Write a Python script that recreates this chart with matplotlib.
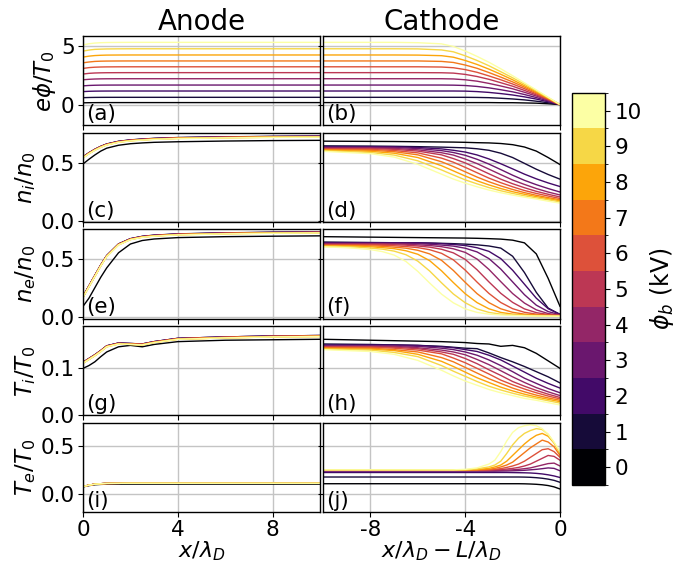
import numpy as np
import matplotlib
matplotlib.use("Agg")
import matplotlib.pyplot as plt
from matplotlib.colors import ListedColormap, BoundaryNorm
import matplotlib.cm as cm

plt.rcParams['font.family'] = 'DejaVu Sans'
plt.rcParams['mathtext.fontset'] = 'dejavusans'
plt.rcParams['axes.unicode_minus'] = False
plt.rcParams['axes.linewidth'] = 1.0

# ---------------- data (rows = phi_b 0..10 kV) ----------------
phi_b = [0, 1, 2, 3, 4, 5, 6, 7, 8, 9, 10]

x_anode = [0, 0.25, 0.5, 0.75, 1, 1.5, 2, 2.5, 3, 4, 6, 8, 10]
x_cath = [-10, -8, -7, -6, -5, -4.5, -4, -3.5, -3, -2.5, -2, -1.5, -1, -0.5, 0]
x_cath_fine = [-10, -9.5, -9, -8.5, -8, -7.5, -7, -6.5, -6, -5.5, -5, -4.5, -4,
               -3.5, -3, -2.5, -2, -1.5, -1, -0.5, 0]
x_cath_te = [-10, -8, -6, -5, -4.5, -4, -3.5, -3, -2.75, -2.5, -2.25, -2, -1.75,
             -1.5, -1.25, -1, -0.75, -0.5, -0.25, 0]

# (a) potential, anode side
phi_anode = [
    [0.15, 0.16, 0.165, 0.168, 0.169, 0.17, 0.17, 0.17, 0.17, 0.17, 0.17, 0.17, 0.17],
    [0.59, 0.605, 0.613, 0.617, 0.619, 0.62, 0.62, 0.62, 0.62, 0.62, 0.62, 0.62, 0.62],
    [1.11, 1.135, 1.148, 1.154, 1.157, 1.159, 1.16, 1.16, 1.16, 1.16, 1.16, 1.16, 1.16],
    [1.60, 1.635, 1.652, 1.662, 1.666, 1.669, 1.67, 1.67, 1.67, 1.67, 1.67, 1.67, 1.67],
    [2.12, 2.16, 2.185, 2.199, 2.205, 2.208, 2.21, 2.21, 2.21, 2.21, 2.21, 2.21, 2.21],
    [2.61, 2.67, 2.70, 2.715, 2.723, 2.728, 2.73, 2.73, 2.73, 2.73, 2.73, 2.73, 2.73],
    [3.09, 3.16, 3.195, 3.213, 3.222, 3.228, 3.23, 3.23, 3.23, 3.23, 3.23, 3.23, 3.23],
    [3.57, 3.64, 3.69, 3.71, 3.72, 3.727, 3.73, 3.73, 3.73, 3.73, 3.73, 3.73, 3.73],
    [4.06, 4.14, 4.19, 4.215, 4.23, 4.237, 4.24, 4.24, 4.24, 4.24, 4.24, 4.24, 4.24],
    [4.57, 4.66, 4.72, 4.74, 4.755, 4.765, 4.77, 4.77, 4.77, 4.77, 4.77, 4.77, 4.77],
    [5.10, 5.20, 5.26, 5.29, 5.305, 5.315, 5.32, 5.32, 5.32, 5.32, 5.32, 5.32, 5.32],
]
# (b) potential, cathode side
phi_cath = [
    [0.17, 0.17, 0.17, 0.17, 0.17, 0.17, 0.17, 0.17, 0.17, 0.16, 0.16, 0.14, 0.12, 0.07, 0],
    [0.62, 0.62, 0.62, 0.62, 0.62, 0.62, 0.62, 0.61, 0.59, 0.54, 0.48, 0.40, 0.29, 0.155, 0],
    [1.16, 1.16, 1.16, 1.16, 1.16, 1.16, 1.15, 1.11, 1.04, 0.94, 0.82, 0.66, 0.47, 0.24, 0],
    [1.67, 1.67, 1.67, 1.67, 1.67, 1.66, 1.63, 1.55, 1.43, 1.27, 1.09, 0.86, 0.60, 0.31, 0],
    [2.21, 2.21, 2.21, 2.21, 2.21, 2.19, 2.12, 2.00, 1.81, 1.59, 1.35, 1.05, 0.73, 0.38, 0],
    [2.73, 2.73, 2.73, 2.73, 2.72, 2.69, 2.58, 2.40, 2.16, 1.87, 1.57, 1.21, 0.83, 0.42, 0],
    [3.23, 3.23, 3.23, 3.23, 3.21, 3.15, 2.99, 2.76, 2.45, 2.12, 1.76, 1.36, 0.92, 0.47, 0],
    [3.73, 3.73, 3.73, 3.73, 3.69, 3.60, 3.38, 3.10, 2.74, 2.35, 1.94, 1.49, 1.01, 0.51, 0],
    [4.24, 4.24, 4.24, 4.23, 4.18, 4.05, 3.77, 3.43, 3.03, 2.59, 2.12, 1.61, 1.09, 0.55, 0],
    [4.77, 4.77, 4.77, 4.76, 4.67, 4.51, 4.17, 3.77, 3.32, 2.81, 2.29, 1.74, 1.17, 0.59, 0],
    [5.32, 5.32, 5.32, 5.29, 5.19, 4.97, 4.58, 4.12, 3.62, 3.06, 2.47, 1.86, 1.25, 0.63, 0],
]
# (c) ion density, anode side
ni_anode = [
    [.490, .530, .567, .600, .625, .650, .663, .670, .675, .680, .686, .690, .692],
    [.551, .586, .616, .641, .661, .684, .696, .703, .709, .716, .722, .726, .728],
    [.550, .585, .615, .640, .660, .683, .695, .702, .708, .715, .721, .725, .727],
    [.549, .584, .614, .639, .659, .682, .694, .701, .707, .714, .720, .724, .726],
    [.548, .583, .613, .638, .658, .681, .693, .700, .706, .713, .719, .723, .725],
    [.547, .582, .612, .637, .657, .680, .692, .699, .705, .712, .718, .722, .724],
    [.546, .581, .611, .636, .656, .679, .691, .698, .704, .711, .717, .721, .723],
    [.545, .580, .610, .635, .655, .678, .690, .697, .703, .710, .716, .720, .722],
    [.544, .579, .609, .634, .654, .677, .689, .696, .702, .709, .715, .719, .721],
    [.543, .578, .608, .633, .653, .676, .688, .695, .701, .708, .714, .718, .720],
    [.542, .577, .607, .632, .652, .675, .687, .694, .700, .707, .713, .717, .719],
]
# (d) ion density, cathode side
ni_cath = [
    [.685, .683, .682, .680, .678, .677, .675, .672, .670, .665, .655, .635, .600, .545, .485],
    [.645, .643, .641, .638, .634, .631, .628, .620, .607, .582, .545, .495, .445, .400, .360],
    [.637, .637, .637, .631, .619, .607, .592, .567, .533, .492, .448, .403, .363, .328, .297],
    [.632, .632, .631, .622, .604, .588, .564, .530, .489, .442, .394, .350, .313, .280, .250],
    [.627, .627, .623, .611, .586, .566, .532, .493, .446, .399, .353, .315, .280, .250, .225],
    [.622, .622, .615, .600, .568, .536, .499, .453, .406, .360, .321, .287, .256, .231, .208],
    [.618, .615, .605, .585, .540, .505, .461, .415, .369, .330, .295, .263, .238, .216, .195],
    [.613, .607, .595, .568, .509, .468, .423, .378, .338, .303, .272, .245, .222, .202, .184],
    [.608, .598, .582, .545, .475, .431, .387, .346, .311, .280, .253, .231, .211, .193, .175],
    [.603, .588, .566, .517, .439, .396, .354, .320, .288, .261, .238, .218, .200, .184, .165],
    [.598, .578, .549, .487, .403, .361, .326, .295, .267, .244, .224, .206, .190, .172, .155],
]
# (e) electron density, anode side
ne_anode = [
    [.090, .160, .250, .340, .420, .550, .625, .655, .668, .680, .688, .692, .695],
    [.176, .266, .356, .446, .526, .626, .671, .691, .701, .712, .721, .726, .729],
    [.175, .265, .355, .445, .525, .625, .670, .690, .700, .711, .720, .725, .728],
    [.174, .264, .354, .444, .524, .624, .669, .689, .699, .710, .719, .724, .727],
    [.173, .263, .353, .443, .523, .623, .668, .688, .698, .709, .718, .723, .726],
    [.172, .262, .352, .442, .522, .622, .667, .687, .697, .708, .717, .722, .725],
    [.171, .261, .351, .441, .521, .621, .666, .686, .696, .707, .716, .721, .724],
    [.170, .260, .350, .440, .520, .620, .665, .685, .695, .706, .715, .720, .723],
    [.169, .259, .349, .439, .519, .619, .664, .684, .694, .705, .714, .719, .722],
    [.168, .258, .348, .438, .518, .618, .663, .683, .693, .704, .713, .718, .721],
    [.167, .257, .347, .437, .517, .617, .662, .682, .692, .703, .712, .717, .720],
]
# (f) electron density, cathode side
ne_cath = [
    [.688, .687, .686, .685, .684, .683, .682, .681, .680, .679, .678, .677, .676, .674, .671, .667, .658, .635, .540, .330, .090],
    [.642, .641, .640, .639, .638, .637, .636, .635, .634, .633, .631, .628, .624, .618, .608, .590, .520, .380, .210, .075, .020],
    [.636, .636, .636, .636, .636, .636, .636, .636, .636, .633, .628, .621, .612, .593, .562, .500, .400, .280, .160, .070, .022],
    [.631, .631, .631, .631, .631, .631, .631, .631, .628, .623, .616, .607, .589, .557, .500, .410, .300, .190, .100, .045, .018],
    [.626, .626, .626, .626, .626, .626, .626, .623, .618, .612, .602, .584, .553, .496, .407, .302, .200, .118, .060, .028, .014],
    [.622, .622, .622, .622, .622, .622, .619, .615, .608, .598, .580, .549, .493, .404, .300, .202, .124, .068, .036, .020, .012],
    [.617, .617, .617, .617, .617, .614, .610, .603, .594, .576, .545, .489, .401, .298, .201, .123, .070, .039, .023, .017, .012],
    [.612, .612, .612, .612, .609, .605, .598, .589, .571, .540, .485, .398, .296, .199, .122, .069, .039, .023, .017, .012, .009],
    [.608, .608, .608, .605, .601, .594, .585, .567, .537, .482, .395, .294, .198, .122, .069, .038, .023, .016, .012, .009, .007],
    [.604, .604, .601, .597, .590, .581, .564, .533, .478, .393, .292, .196, .121, .068, .038, .023, .016, .012, .009, .007, .006],
    [.600, .597, .593, .586, .577, .560, .530, .475, .390, .290, .195, .120, .068, .038, .023, .016, .012, .009, .007, .006, .005],
]
# (g) ion temperature, anode side
ti_anode = [
    [.100, .106, .114, .125, .135, .146, .149, .146, .151, .157, .160, .161, .162],
    [.113, .121, .129, .138, .148, .154, .153, .152, .157, .164, .167, .169, .170],
    [.113, .121, .129, .138, .148, .154, .153, .152, .157, .164, .167, .169, .170],
    [.113, .121, .129, .138, .148, .154, .153, .152, .157, .164, .167, .169, .170],
    [.112, .120, .128, .137, .147, .153, .152, .151, .156, .163, .166, .168, .169],
    [.112, .120, .128, .137, .147, .153, .152, .151, .156, .163, .166, .168, .169],
    [.112, .120, .128, .137, .147, .153, .152, .151, .156, .163, .166, .168, .169],
    [.112, .120, .128, .137, .147, .153, .152, .151, .156, .163, .166, .168, .169],
    [.111, .119, .127, .136, .146, .152, .151, .150, .155, .162, .165, .167, .168],
    [.111, .119, .127, .136, .146, .152, .151, .150, .155, .162, .165, .167, .168],
    [.111, .119, .127, .136, .146, .152, .151, .150, .155, .162, .165, .167, .168],
]
# (h) ion temperature, cathode side
ti_cath = [
    [.162, .160, .159, .158, .157, .156, .155, .153, .152, .147, .149, .144, .132, .116, .100],
    [.152, .151, .150, .149, .147, .145, .143, .142, .133, .123, .114, .104, .093, .082, .069],
    [.150, .150, .150, .149, .146, .144, .140, .136, .128, .118, .105, .092, .079, .068, .058],
    [.148, .148, .148, .147, .143, .140, .135, .128, .118, .106, .093, .079, .068, .057, .048],
    [.147, .147, .147, .144, .139, .135, .129, .119, .108, .095, .082, .070, .059, .050, .042],
    [.146, .146, .145, .142, .135, .130, .121, .110, .097, .085, .072, .062, .053, .045, .038],
    [.145, .145, .143, .139, .131, .122, .112, .100, .088, .075, .065, .056, .048, .041, .035],
    [.144, .143, .140, .135, .123, .114, .102, .090, .078, .068, .058, .050, .043, .037, .032],
    [.142, .141, .138, .130, .115, .104, .092, .080, .070, .060, .052, .045, .039, .034, .029],
    [.141, .139, .134, .125, .106, .094, .083, .072, .062, .054, .047, .041, .036, .031, .026],
    [.140, .136, .130, .117, .096, .084, .073, .064, .055, .048, .042, .036, .032, .027, .022],
]
# (i) electron temperature, anode side
te_anode = [
    [.072, .085, .094, .098, .100, .101, .101, .101, .101, .101, .101, .101, .101],
    [.075, .090, .100, .105, .108, .109, .110, .110, .110, .110, .110, .110, .110],
    [.075, .090, .100, .105, .108, .109, .110, .110, .110, .110, .110, .110, .110],
    [.075, .090, .100, .105, .108, .109, .110, .110, .110, .110, .110, .110, .110],
    [.075, .090, .100, .105, .108, .109, .110, .110, .110, .110, .110, .110, .110],
    [.075, .090, .100, .105, .108, .109, .110, .110, .110, .110, .110, .110, .110],
    [.075, .090, .100, .105, .108, .109, .110, .110, .110, .110, .110, .110, .110],
    [.075, .090, .100, .105, .108, .109, .110, .110, .110, .110, .110, .110, .110],
    [.075, .090, .100, .105, .108, .109, .110, .110, .110, .110, .110, .110, .110],
    [.075, .090, .100, .105, .108, .109, .110, .110, .110, .110, .110, .110, .110],
    [.075, .090, .100, .105, .108, .109, .110, .110, .110, .110, .110, .110, .110],
]
# (j) electron temperature, cathode side
te_cath = [
    [.105, .105, .105, .105, .105, .105, .105, .105, .105, .105, .105, .105, .105, .104, .102, .099, .094, .086, .072, .050],
    [.175, .175, .175, .175, .175, .175, .175, .175, .175, .175, .175, .175, .175, .174, .172, .168, .162, .153, .140, .120],
    [.222, .222, .222, .222, .222, .222, .222, .222, .222, .222, .222, .221, .220, .219, .217, .213, .207, .198, .186, .170],
    [.236, .236, .236, .236, .236, .236, .236, .236, .236, .237, .238, .240, .242, .245, .250, .255, .262, .270, .265, .240],
    [.243, .243, .243, .243, .243, .243, .243, .243, .244, .245, .247, .250, .255, .262, .270, .285, .300, .315, .320, .290],
    [.245, .245, .245, .245, .245, .245, .245, .247, .250, .253, .258, .265, .275, .290, .310, .340, .370, .400, .390, .350],
    [.246, .246, .246, .246, .246, .246, .247, .250, .255, .262, .275, .290, .310, .340, .380, .420, .460, .470, .440, .380],
    [.248, .248, .248, .248, .248, .248, .250, .255, .265, .280, .300, .330, .380, .430, .480, .520, .560, .540, .490, .400],
    [.250, .250, .250, .250, .250, .250, .253, .265, .280, .300, .340, .400, .460, .520, .570, .610, .630, .600, .530, .420],
    [.250, .250, .250, .250, .250, .250, .260, .280, .300, .340, .420, .510, .580, .630, .660, .680, .670, .620, .530, .430],
    [.250, .250, .250, .250, .250, .255, .270, .310, .350, .440, .550, .640, .690, .710, .720, .710, .680, .620, .540, .440],
]

# ---------------- figure ----------------
colors = plt.get_cmap('inferno')(np.linspace(0, 1, len(phi_b)))

fig = plt.figure(figsize=(6.76, 5.63), dpi=100)
gs = fig.add_gridspec(5, 2, left=0.1228, right=0.8284, top=0.936, bottom=0.0906,
                      hspace=0.085, wspace=0.013)

rows = [
    (x_anode, phi_anode, x_cath, phi_cath, r'$e\phi/T_0$', (-1.76, 5.86), [0, 5], ['0', '5']),
    (x_anode, ni_anode, x_cath, ni_cath, r'$n_i/n_0$', (-0.005, 0.757), [0, 0.5], ['0.0', '0.5']),
    (x_anode, ne_anode, x_cath_fine, ne_cath, r'$n_e/n_0$', (-0.015, 0.75), [0, 0.5], ['0.0', '0.5']),
    (x_anode, ti_anode, x_cath, ti_cath, r'$T_i/T_0$', (0, 0.19), [0, 0.1], ['0.0', '0.1']),
    (x_anode, te_anode, x_cath_te, te_cath, r'$T_e/T_0$', (-0.19, 0.74), [0, 0.5], ['0.0', '0.5']),
]
letters = 'abcdefghij'

for r, (xa, ya, xc, yc, ylab, ylim, yt, ytl) in enumerate(rows):
    axa = fig.add_subplot(gs[r, 0])
    axc = fig.add_subplot(gs[r, 1])
    for k in range(len(phi_b)):
        axa.plot(xa, ya[k], color=colors[k], lw=1.0)
        axc.plot(xc, yc[k], color=colors[k], lw=1.0)
    for j, ax in enumerate([axa, axc]):
        ax.set_ylim(*ylim)
        ax.set_yticks(yt)
        ax.grid(True, color='#c4c4c4', lw=1.0)
        ax.set_axisbelow(True)
        ax.tick_params(direction='out', length=3.5, width=0.8, labelsize=15.5, pad=2.5)
        ax.tick_params(axis='x', pad=2)
        ax.text(0.012, 0.015, '(%s)' % letters[2 * r + j], transform=ax.transAxes,
                ha='left', va='bottom', fontsize=15.5)
    axa.set_xlim(0, 10)
    axa.set_xticks([0, 4, 8])
    axc.set_xlim(-10, 0)
    axc.set_xticks([-8, -4, 0])
    axa.set_yticklabels(ytl)
    axc.set_yticklabels([])
    axa.set_ylabel(ylab, fontsize=16.5, labelpad=2)
    if r == 0:
        axa.set_title('Anode', fontsize=20, pad=3)
        axc.set_title('Cathode', fontsize=20, pad=3)
    if r == 4:
        axa.set_xticklabels(['0', '4', '8'])
        axc.set_xticklabels(['-8', '-4', '0'])
        axa.set_xlabel(r'$x/\lambda_D$', fontsize=16, labelpad=0)
        axc.set_xlabel(r'$x/\lambda_D - L/\lambda_D$', fontsize=16, labelpad=0)
    else:
        axa.set_xticklabels([])
        axc.set_xticklabels([])

# discrete colorbar
cax = fig.add_axes([0.8466, 0.1385, 0.0484, 0.6968])
cmap = ListedColormap(colors)
norm = BoundaryNorm(np.arange(-0.5, len(phi_b) + 0.5, 1), cmap.N)
cb = fig.colorbar(cm.ScalarMappable(norm=norm, cmap=cmap), cax=cax, ticks=phi_b)
cb.ax.tick_params(labelsize=15.5, length=3.5)
cb.set_label(r'$\phi_b$ (kV)', fontsize=17)

plt.savefig('out.png', dpi=100)
